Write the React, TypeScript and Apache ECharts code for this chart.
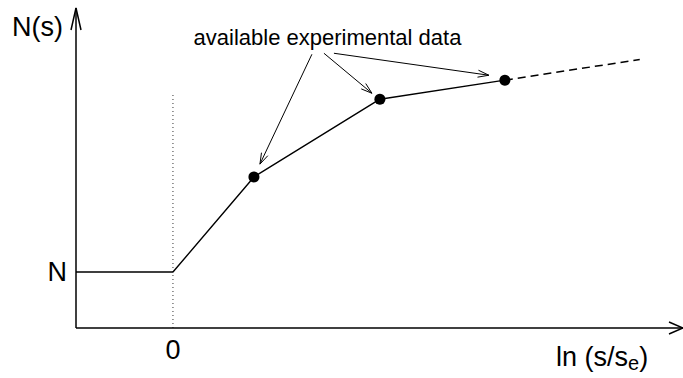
import React, { useEffect, useRef } from "react";
import * as echarts from "echarts";

// Axis extents (schematic units)
const X_MIN = -1;
const X_MAX = 5.26;
const Y_MAX = 5.72;

// Solid curve N(s): flat at N, then rising through the data points
const curveX = [-1, 0, 0.835, 2.134, 3.423];
const curveY = [1, 1, 2.7, 4.09, 4.43];

// Dashed extrapolation
const extrapX = [3.423, 4.814];
const extrapY = [4.43, 4.8];

// Available experimental data points
const dataX = [0.835, 2.134, 3.423];
const dataY = [2.7, 4.09, 4.43];

// Dotted guide at ln(s/se) = 0
const guideX = [0, 0];
const guideY = [0, 4.21];

// Annotation arrows (from text to points)
const noteFromX = [1.433, 1.557, 1.66];
const noteFromY = [4.893, 4.911, 4.911];
const noteToX = [0.897, 2.052, 3.258];
const noteToY = [2.929, 4.196, 4.518];

// Axis arrows
const axisFromX = [X_MIN, X_MIN];
const axisFromY = [0, 0];
const axisToX = [X_MIN, X_MAX];
const axisToY = [Y_MAX, 0];

// Labels
const yTickLabel = "N";
const xTickLabel = "0";
const yTitle = "N(s)";
const noteText = "available experimental data";

const FONT = "'Liberation Sans', Arial, Helvetica, sans-serif";

function zip(xs: number[], ys: number[]) {
  return xs.map((x, i) => [x, ys[i]]);
}

function arrowRenderer(lineWidth: number, headLens: number[], headHalfWidths: number[]) {
  return (params: any, api: any) => {
    const i = params.dataIndex;
    const from = api.coord([api.value(0), api.value(1)]);
    const to = api.coord([api.value(2), api.value(3)]);
    const dx = to[0] - from[0];
    const dy = to[1] - from[1];
    const len = Math.sqrt(dx * dx + dy * dy) || 1;
    const ux = dx / len;
    const uy = dy / len;
    const nx = -uy;
    const ny = ux;
    const L = headLens[i % headLens.length];
    const W = headHalfWidths[i % headHalfWidths.length];
    const p1 = [to[0] - L * ux + W * nx, to[1] - L * uy + W * ny];
    const p2 = [to[0] - L * ux - W * nx, to[1] - L * uy - W * ny];
    return {
      type: "group",
      children: [
        {
          type: "line",
          shape: { x1: from[0], y1: from[1], x2: to[0], y2: to[1] },
          style: { stroke: "#000", lineWidth },
        },
        {
          type: "polyline",
          shape: { points: [p1, to, p2] },
          style: { stroke: "#000", fill: "none", lineWidth },
        },
      ],
    };
  };
}

export default function App() {
  const ref = useRef<HTMLDivElement>(null);

  useEffect(() => {
    if (!ref.current) return;
    const chart = echarts.init(ref.current, null, { renderer: "svg" });

    const noteData = noteFromX.map((x, i) => [x, noteFromY[i], noteToX[i], noteToY[i]]);
    const axisData = axisFromX.map((x, i) => [x, axisFromY[i], axisToX[i], axisToY[i]]);

    chart.setOption({
      animation: false,
      backgroundColor: "#fff",
      grid: { left: 76, right: 0, top: 8, bottom: 50, containLabel: false },
      xAxis: {
        type: "value",
        min: X_MIN,
        max: X_MAX,
        interval: 1,
        axisLine: { show: false },
        axisTick: { show: false },
        splitLine: { show: false },
        axisLabel: {
          margin: 8,
          fontSize: 27,
          color: "#000",
          fontFamily: FONT,
          showMaxLabel: false,
          formatter: (v: number) => (v === 0 ? xTickLabel : ""),
        },
      },
      yAxis: {
        type: "value",
        min: 0,
        max: Y_MAX,
        interval: 1,
        axisLine: { show: false },
        axisTick: { show: false },
        splitLine: { show: false },
        axisLabel: {
          margin: 9,
          fontSize: 27,
          color: "#000",
          fontFamily: FONT,
          showMaxLabel: false,
          formatter: (v: number) => (v === 1 ? yTickLabel : ""),
        },
      },
      graphic: [
        {
          type: "text",
          left: 12,
          top: 13,
          style: { text: yTitle, fontSize: 27, fill: "#000", fontFamily: FONT },
        },
        {
          type: "text",
          x: 327.5,
          y: 37,
          style: {
            text: noteText,
            fontSize: 22,
            fill: "#000",
            fontFamily: FONT,
            align: "center",
            verticalAlign: "middle",
          },
        },
        {
          type: "text",
          x: 556,
          y: 357,
          style: {
            text: "{n|ln (s/s}{sub|e}{n|)}",
            fill: "#000",
            fontFamily: FONT,
            verticalAlign: "middle",
            rich: {
              n: { fontSize: 27, lineHeight: 31, fontFamily: FONT, fill: "#000", verticalAlign: "middle" },
              sub: { fontSize: 20, lineHeight: 19, fontFamily: FONT, fill: "#000", verticalAlign: "bottom" },
            },
          },
        },
      ],
      series: [
        {
          type: "line",
          data: zip(guideX, guideY),
          symbol: "none",
          lineStyle: { color: "#333", width: 1, type: [1, 3] },
          silent: true,
          z: 1,
        },
        {
          type: "line",
          data: zip(curveX, curveY),
          symbol: "none",
          lineStyle: { color: "#000", width: 1.4 },
          silent: true,
          z: 2,
        },
        {
          type: "line",
          data: zip(extrapX, extrapY),
          symbol: "none",
          lineStyle: { color: "#000", width: 1.5, type: [8, 5] },
          silent: true,
          z: 2,
        },
        {
          type: "scatter",
          data: zip(dataX, dataY),
          symbol: "circle",
          symbolSize: 11,
          itemStyle: { color: "#000", opacity: 1 },
          silent: true,
          z: 5,
        },
        {
          type: "custom",
          data: axisData,
          encode: { x: [0, 2], y: [1, 3] },
          renderItem: arrowRenderer(1.5, [22, 14], [5, 6]),
          silent: true,
          clip: false,
          z: 3,
        },
        {
          type: "custom",
          data: noteData,
          encode: { x: [0, 2], y: [1, 3] },
          renderItem: arrowRenderer(1, [11], [3.5]),
          silent: true,
          clip: false,
          z: 3,
        },
      ],
    });

    return () => chart.dispose();
  }, []);

  return (
    <div
      ref={ref}
      style={{ position: "absolute", left: 0, top: 0, width: 683, height: 378 }}
    />
  );
}
